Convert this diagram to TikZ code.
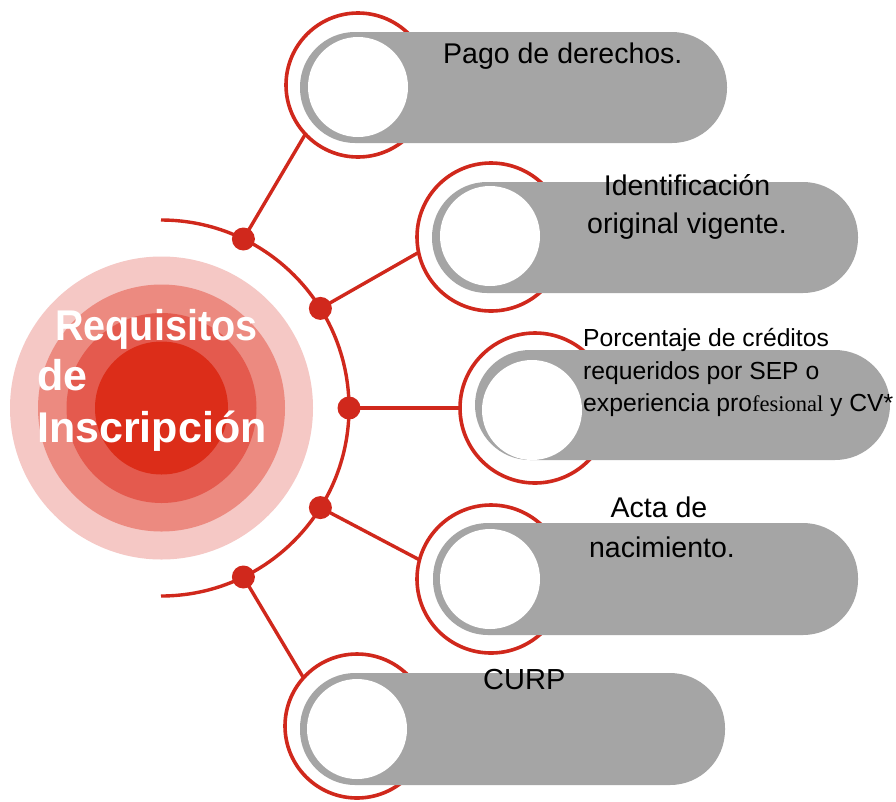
\documentclass[tikz,border=0pt]{standalone}
\usepackage{fontspec}
\setmainfont{Liberation Sans}
\newfontfamily\serifpart{Liberation Serif}
\definecolor{ringred}{RGB}{208,40,28}
\definecolor{pillgray}{RGB}{165,165,165}
\definecolor{cA}{RGB}{245,200,197}
\definecolor{cB}{RGB}{236,138,128}
\definecolor{cC}{RGB}{228,90,78}
\definecolor{cD}{RGB}{220,45,25}
\tikzset{
  ringc/.style={circle, draw=ringred, line width=3.6pt, minimum size=#1, inner sep=0pt, outer sep=0pt},
  pill/.style={fill=pillgray, rounded corners=55pt},
  hole/.style={circle, fill=white, minimum size=100pt, inner sep=0pt},
  dotc/.style={circle, fill=ringred, minimum size=23pt, inner sep=0pt},
  link/.style={draw=ringred, line width=3.4pt},
  lbl/.style={inner sep=0pt, text=black, font=\fontsize{28.5}{34}\selectfont},
  lblsmall/.style={inner sep=0pt, text=black, font=\fontsize{24.7}{30}\selectfont},
  title/.style={inner sep=0pt, text=white, font=\bfseries\fontsize{43}{50}\selectfont, anchor=base west}
}
\begin{document}
\begin{tikzpicture}[x=1pt, y=-1pt]
\useasboundingbox (0,0) rectangle (896,801);
\fill[white] (0,0) rectangle (896,801);

% central target
\fill[cA] (161.5,408) circle[radius=151.5];
\fill[cB] (161.5,408) circle[radius=123.5];
\fill[cC] (161.5,408) circle[radius=95];
\fill[cD] (161.5,408) circle[radius=66.5];
\node[title] (t1) at (55,340) {\scalebox{0.92}[1]{Requisitos}};
\node[title] (t2) at (37,390) {de};
\node[title] (t3) at (37,442) {Inscripción};

% arc
\draw[link] (161,220) arc[start angle=-90, end angle=90, radius=188];

% rings (behind pills)
\node[ringc=144pt] (r1) at (358,85) {};
\node[ringc=148pt] (r2) at (491,237) {};
\node[ringc=150pt] (r3) at (535,408) {};
\node[ringc=148pt] (r4) at (491,579) {};
\node[ringc=144pt] (r5) at (357,726) {};

% pills
\fill[pill] (300,32) rectangle (727,143);
\fill[pill] (432,182) rectangle (858,293);
\fill[pill] (475,350) rectangle (890,460);
\fill[pill] (433,523) rectangle (858,635);
\fill[pill] (300,673) rectangle (725,785);

% holes
\node[hole] (h1) at (358,87) {};
\node[hole] (h2) at (490,236) {};
\node[hole] (h3) at (532,410) {};
\node[hole] (h4) at (490,579) {};
\node[hole] (h5) at (357,729) {};

% dots
\node[dotc] (d1) at (243.4,239) {};
\node[dotc] (d2) at (320.4,308.4) {};
\node[dotc] (d3) at (349,408) {};
\node[dotc] (d4) at (320.4,507.6) {};
\node[dotc] (d5) at (243.4,577) {};

% connectors
\draw[link] (d1.center) -- (r1.223);
\draw[link] (d2.center) -- (r2.192);
\draw[link] (d3.center) -- (r3.180);
\draw[link] (d4.center) -- (r4.165);
\draw[link] (d5.center) -- (r5.138);

% labels
\node[lbl, anchor=base west] (l1) at (443,63) {Pago de derechos.};
\node[lbl, anchor=base] (l2a) at (687,195) {Identificación};
\node[lbl, anchor=base] (l2b) at (687,233) {original vigente.};
\node[lblsmall, anchor=base west] (l3a) at (583,346) {Porcentaje de créditos};
\node[lblsmall, anchor=base west] (l3b) at (583,379) {requeridos por SEP o};
\node[lblsmall, anchor=base west] (l3c) at (583,411) {experiencia pro{\serifpart\fontsize{22.5}{27}\selectfont fesional} y CV*};
\node[lbl, anchor=base] (l4a) at (659,517) {Acta de};
\node[lbl, anchor=base] (l4b) at (662,557) {nacimiento.};
\node[lbl, anchor=base west, font=\fontsize{29}{34}\selectfont] (l5) at (483,689) {CURP};
\end{tikzpicture}
\end{document}
